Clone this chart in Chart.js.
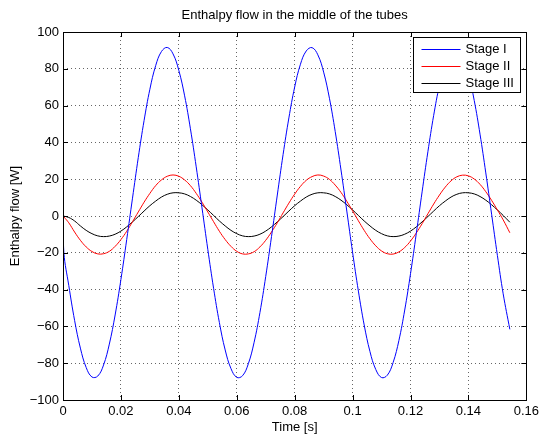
<!DOCTYPE html>
<html>
<head>
<meta charset="utf-8">
<title>Enthalpy flow in the middle of the tubes</title>
<script src="https://cdn.jsdelivr.net/npm/chart.js@4.4.1/dist/chart.umd.min.js"></script>
<style>
  html, body { margin: 0; padding: 0; background: #fff; }
  #wrap { width: 543px; height: 437px; }
</style>
</head>
<body>
<div id="wrap"><canvas id="enthalpyChart" width="543" height="437"></canvas></div>
<script>
// Sample times [s]
const times = [
  0, 0.0003, 0.002, 0.004, 0.006, 0.008, 0.010, 0.012, 0.014, 0.016, 0.018,
  0.020, 0.022, 0.024, 0.026, 0.028, 0.030, 0.032, 0.034, 0.036, 0.038,
  0.040, 0.042, 0.044, 0.046, 0.048, 0.050, 0.052, 0.054, 0.056, 0.058,
  0.060, 0.062, 0.064, 0.066, 0.068, 0.070, 0.072, 0.074, 0.076, 0.078,
  0.080, 0.082, 0.084, 0.086, 0.088, 0.090, 0.092, 0.094, 0.096, 0.098,
  0.100, 0.102, 0.104, 0.106, 0.108, 0.110, 0.112, 0.114, 0.116, 0.118,
  0.120, 0.122, 0.124, 0.126, 0.128, 0.130, 0.132, 0.134, 0.136, 0.138,
  0.140, 0.142, 0.144, 0.146, 0.148, 0.150, 0.152, 0.1543
];

// Enthalpy flow [W]
const stageI = [
  0, -20, -37.8, -56.7, -71.8, -82.3, -87.5, -87.0, -81.0, -69.6, -53.8,
  -34.5, -12.8, 9.7, 31.8, 51.9, 68.9, 81.7, 89.4, 91.6, 88.1,
  79.1, 65.3, 47.4, 26.7, 4.4, -18.1, -39.3, -57.9, -72.8, -82.9,
  -87.7, -86.8, -80.3, -68.6, -52.5, -32.9, -11.2, 11.4, 33.4, 53.3,
  70.1, 82.5, 89.7, 91.5, 87.6, 78.2, 64.0, 45.9, 25.0, 2.7,
  -19.8, -40.8, -59.2, -73.7, -83.4, -87.8, -86.5, -79.6, -67.6, -51.1,
  -31.4, -9.5, 13.1, 34.9, 54.7, 71.1, 83.2, 90.1, 91.4, 87.1,
  77.3, 62.8, 44.5, 23.4, 1.0, -21.4, -42.3, -61.6
];
const stageII = [
  0, -0.5, -3.7, -8.7, -13.2, -16.8, -19.3, -20.6, -20.5, -19.2, -16.5,
  -12.8, -8.3, -3.1, 2.2, 7.5, 12.3, 16.5, 19.6, 21.6, 22.3,
  21.6, 19.6, 16.5, 12.3, 7.5, 2.2, -3.1, -8.3, -12.8, -16.5,
  -19.2, -20.6, -20.6, -19.4, -16.8, -13.2, -8.7, -3.7, 1.7, 7.0,
  11.9, 16.1, 19.4, 21.4, 22.3, 21.7, 19.9, 16.8, 12.8, 8.0,
  2.8, -2.6, -7.8, -12.4, -16.2, -19.0, -20.5, -20.7, -19.5, -17.1,
  -13.6, -9.2, -4.2, 1.2, 6.5, 11.4, 15.7, 19.1, 21.3, 22.2,
  21.8, 20.1, 17.2, 13.2, 8.5, 3.3, -2.1, -9.1
];
const stageIII = [
  0, -0.1, -0.8, -2.7, -5.4, -7.8, -9.6, -10.8, -11.2, -10.9, -9.9,
  -8.2, -5.9, -3.2, -0.3, 2.7, 5.6, 8.1, 10.3, 11.8, 12.6,
  12.6, 12.0, 10.6, 8.6, 6.1, 3.3, 0.3, -2.7, -5.4, -7.8,
  -9.6, -10.8, -11.2, -10.9, -9.9, -8.2, -5.9, -3.2, -0.3, 2.7,
  5.6, 8.1, 10.3, 11.8, 12.6, 12.6, 12.0, 10.6, 8.6, 6.1,
  3.3, 0.3, -2.7, -5.4, -7.8, -9.6, -10.8, -11.2, -10.9, -9.9,
  -8.2, -5.9, -3.2, -0.3, 2.7, 5.6, 8.1, 10.3, 11.8, 12.6,
  12.6, 12.0, 10.6, 8.6, 6.1, 3.3, 0.3, -3.4
];

const seriesNames = ['Stage I', 'Stage II', 'Stage III'];
const seriesColors = ['#0000ff', '#ff0000', '#000000'];

const xTicks = { min: 0, max: 0.16, step: 0.02 };
const yTicks = { min: -100, max: 100, step: 20 };

Chart.defaults.font.family = '"Liberation Sans", Arial, Helvetica, sans-serif';
Chart.defaults.font.size = 13;
Chart.defaults.color = '#000';

function toPoints(values) {
    return times.map((t, i) => ({ x: t, y: values[i] }));
}

function minusSign(v) {
    return String(v).replace('-', '\u2212');
}

// Frame box + inward tick marks (matlab style)
const framePlugin = {
    id: 'frame',
    afterDatasetsDraw(chart) {
        const { ctx, chartArea: a, scales } = chart;
        const len = 5;
        ctx.save();
        ctx.strokeStyle = '#000';
        ctx.lineWidth = 1;
        ctx.beginPath();
        scales.x.ticks.forEach(t => {
            const px = Math.round(scales.x.getPixelForValue(t.value)) + 0.5;
            ctx.moveTo(px, a.bottom); ctx.lineTo(px, a.bottom - len);
            ctx.moveTo(px, a.top); ctx.lineTo(px, a.top + len);
        });
        scales.y.ticks.forEach(t => {
            const py = Math.round(scales.y.getPixelForValue(t.value)) + 0.5;
            ctx.moveTo(a.left, py); ctx.lineTo(a.left + len, py);
            ctx.moveTo(a.right, py); ctx.lineTo(a.right - len, py);
        });
        ctx.stroke();
        ctx.strokeRect(Math.round(a.left) + 0.5, Math.round(a.top) + 0.5,
            Math.round(a.right - a.left), Math.round(a.bottom - a.top));
        ctx.restore();
    }
};

// Boxed legend in the upper right corner of the axes
const boxLegendPlugin = {
    id: 'boxLegend',
    afterDraw(chart) {
        const { ctx, chartArea: a } = chart;
        const w = 107, h = 55;
        const left = Math.round(a.right - 6 - w) + 0.5;
        const top = Math.round(a.top + 5) + 0.5;
        ctx.save();
        ctx.fillStyle = '#fff';
        ctx.fillRect(left, top, w, h);
        ctx.strokeStyle = '#000';
        ctx.lineWidth = 1;
        ctx.strokeRect(left, top, w, h);
        ctx.font = '13px "Liberation Sans", Arial, sans-serif';
        ctx.textBaseline = 'middle';
        ctx.textAlign = 'left';
        chart.data.datasets.forEach((ds, i) => {
            const y = Math.round(top + 11 + i * 17) + 0.5;
            ctx.strokeStyle = ds.borderColor;
            ctx.beginPath();
            ctx.moveTo(left + 8, y);
            ctx.lineTo(left + 47, y);
            ctx.stroke();
            ctx.fillStyle = '#000';
            ctx.fillText(ds.label, left + 52, y);
        });
        ctx.restore();
    }
};

const ctx = document.getElementById('enthalpyChart').getContext('2d');
const chart = new Chart(ctx, {
    type: 'line',
    data: {
        datasets: [stageI, stageII, stageIII].map((vals, i) => ({
            label: seriesNames[i],
            data: toPoints(vals),
            borderColor: seriesColors[i],
            borderWidth: 1,
            pointRadius: 0,
            tension: 0.4,
            fill: false
        }))
    },
    options: {
        responsive: false,
        animation: false,
        devicePixelRatio: 1,
        layout: { padding: { left: 0, right: 13, top: 0, bottom: 0 } },
        plugins: {
            legend: { display: false },
            tooltip: { enabled: false },
            title: {
                display: true,
                text: 'Enthalpy flow in the middle of the tubes',
                fullSize: false,
                color: '#000',
                font: { size: 13, weight: 'normal' },
                padding: { top: 7.7, bottom: 8.7 }
            }
        },
        scales: {
            x: {
                type: 'linear',
                min: xTicks.min,
                max: xTicks.max,
                afterFit: s => { s.height = 37; },
                grid: { color: 'rgba(0,0,0,0.6)', lineWidth: 1, drawTicks: false },
                border: { display: false, dash: [1, 3] },
                ticks: {
                    stepSize: xTicks.step,
                    padding: 4,
                    color: '#000',
                    maxRotation: 0,
                    callback: v => String(Math.round(v * 100) / 100)
                },
                title: {
                    display: true,
                    text: 'Time [s]',
                    color: '#000',
                    padding: { top: 0, bottom: 2.2 }
                }
            },
            y: {
                type: 'linear',
                min: yTicks.min,
                max: yTicks.max,
                afterFit: s => { s.width = 63; },
                grid: { color: 'rgba(0,0,0,0.6)', lineWidth: 1, drawTicks: false },
                border: { display: false, dash: [1, 3] },
                ticks: {
                    stepSize: yTicks.step,
                    padding: 4,
                    color: '#000',
                    callback: v => minusSign(Math.round(v))
                },
                title: {
                    display: true,
                    text: 'Enthalpy flow [W]',
                    color: '#000',
                    padding: { top: 7.7, bottom: 0 }
                }
            }
        }
    },
    plugins: [framePlugin, boxLegendPlugin]
});
</script>
</body>
</html>
